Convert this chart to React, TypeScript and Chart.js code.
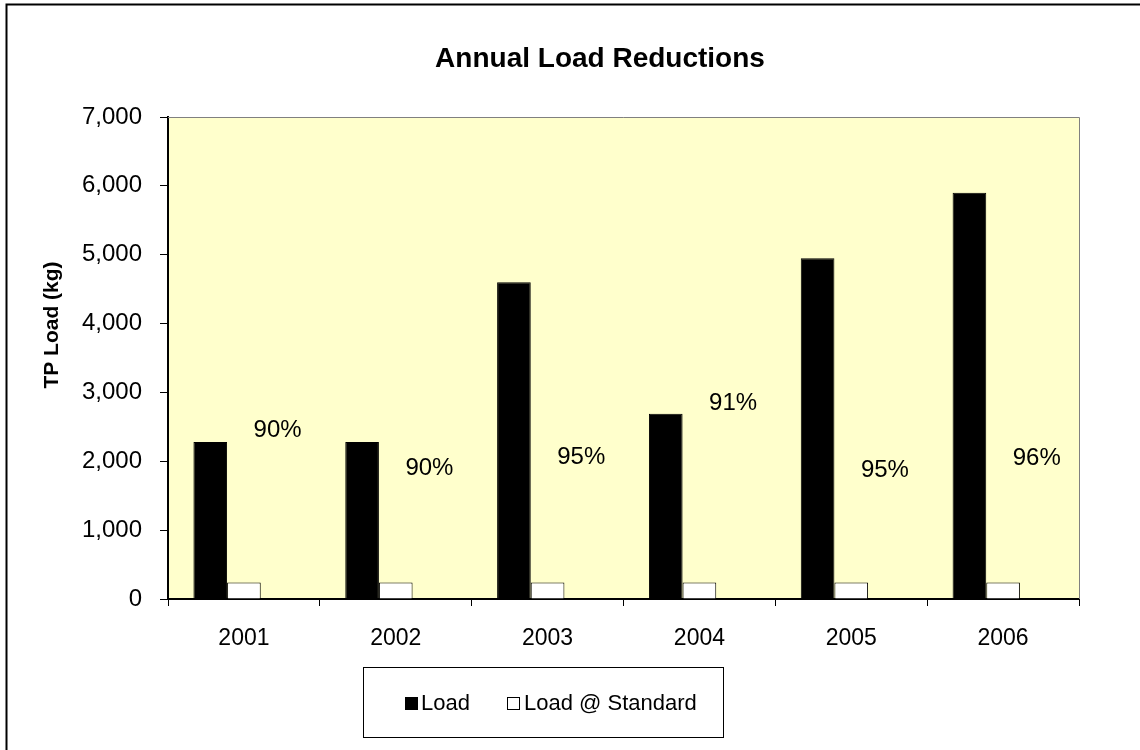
import React, { useEffect, useRef } from "react";
import { Chart, registerables } from "chart.js";

Chart.register(...registerables);

const categories = ["2001", "2002", "2003", "2004", "2005", "2006"];
const loadValues = [2280, 2280, 4600, 2690, 4950, 5900];
const standardValues = [240, 240, 240, 240, 240, 240];
const reductionLabels = ["90%", "90%", "95%", "91%", "95%", "96%"];
const reductionLabelPos = [2454, 1902, 2062, 2846, 1873, 2048];
const reductionSlot = [null, null, null, null, null, null];
const yTicks = [0, 1000, 2000, 3000, 4000, 5000, 6000, 7000];

const FONT = "'Liberation Sans', Arial, sans-serif";

const decorPlugin = {
  id: "decor",
  beforeDraw(chart: any) {
    const { ctx, chartArea } = chart;
    ctx.save();
    ctx.fillStyle = "#ffffff";
    ctx.fillRect(0, 0, chart.width, chart.height);
    ctx.fillStyle = "#FFFFCC";
    ctx.fillRect(chartArea.left, chartArea.top, chartArea.right - chartArea.left, chartArea.bottom - chartArea.top);
    ctx.restore();
  },
  afterDraw(chart: any) {
    const { ctx, chartArea } = chart;
    ctx.save();
    // outer border (right/bottom cropped)
    ctx.strokeStyle = "#000";
    ctx.lineWidth = 2;
    ctx.strokeRect(6.5, 4.5, 1300, 900);
    // plot top & right border
    ctx.strokeStyle = "#808080";
    ctx.lineWidth = 1;
    ctx.beginPath();
    ctx.moveTo(chartArea.left, chartArea.top + 0.5);
    ctx.lineTo(chartArea.right + 0.5, chartArea.top + 0.5);
    ctx.lineTo(chartArea.right + 0.5, chartArea.bottom);
    ctx.stroke();
    // title
    ctx.fillStyle = "#000";
    ctx.font = `bold 28px ${FONT}`;
    ctx.textAlign = "center";
    ctx.textBaseline = "alphabetic";
    ctx.fillText("Annual Load Reductions", 600, 67);
    // y axis title
    ctx.save();
    ctx.translate(52, 325);
    ctx.rotate(-Math.PI / 2);
    ctx.font = `bold 21px ${FONT}`;
    ctx.textBaseline = "middle";
    ctx.fillText("TP Load (kg)", 0, 0);
    ctx.restore();
    // percent labels
    const meta = chart.getDatasetMeta(1);
    const yScale = chart.scales.y;
    ctx.font = `24px ${FONT}`;
    ctx.textAlign = "center";
    ctx.textBaseline = "middle";
    meta.data.forEach((bar: any, i: number) => {
      const x = bar.x + bar.width;
      const y = yScale.getPixelForValue(reductionLabelPos[i]);
      ctx.fillText(reductionLabels[i], x, y);
    });
    // legend
    ctx.strokeStyle = "#000";
    ctx.lineWidth = 1;
    ctx.strokeRect(363.5, 667.5, 360, 70);
    ctx.fillStyle = "#000";
    ctx.fillRect(405, 697, 13, 13);
    ctx.fillStyle = "#fff";
    ctx.fillRect(507, 697, 13, 13);
    ctx.strokeRect(507.5, 697.5, 12, 12);
    ctx.fillStyle = "#000";
    ctx.font = `22px ${FONT}`;
    ctx.textAlign = "left";
    ctx.textBaseline = "middle";
    ctx.fillText("Load", 421, 704);
    ctx.fillText("Load @ Standard", 524, 704);
    ctx.restore();
  },
};

export default function App() {
  const ref = useRef<HTMLCanvasElement>(null);
  useEffect(() => {
    document.body.style.margin = "0";
    const chart = new Chart(ref.current!, {
      type: "bar",
      data: {
        labels: categories,
        datasets: [
          {
            label: "Load",
            data: loadValues,
            backgroundColor: "#000000",
            borderColor: "#000000",
            borderWidth: 1,
          },
          {
            label: "Load @ Standard",
            data: standardValues,
            backgroundColor: "#ffffff",
            borderColor: "#000000",
            borderWidth: 1,
          },
          {
            label: "Reduction",
            data: reductionSlot,
            backgroundColor: "rgba(0,0,0,0)",
            borderWidth: 0,
          },
        ],
      },
      options: {
        responsive: false,
        animation: false,
        layout: { padding: { left: 0, top: 117, right: 61, bottom: 0 } },
        datasets: {
          bar: { categoryPercentage: 0.665, barPercentage: 1.0 },
        },
        plugins: {
          legend: { display: false },
          title: { display: false },
          tooltip: { enabled: false },
        },
        scales: {
          x: {
            offset: true,
            afterFit: (s: any) => {
              s.height = 151;
            },
            grid: {
              offset: true,
              drawOnChartArea: false,
              drawTicks: true,
              tickLength: 7,
              color: "#000",
              lineWidth: 1,
            },
            border: { color: "#000", width: 2 },
            ticks: {
              color: "#000",
              font: { family: FONT, size: 23 },
              padding: 19,
              maxRotation: 0,
            },
          },
          y: {
            min: 0,
            max: 7000,
            afterFit: (s: any) => {
              s.width = 168;
            },
            afterBuildTicks: (s: any) => {
              s.ticks = yTicks.map((v) => ({ value: v }));
            },
            grid: {
              drawOnChartArea: false,
              drawTicks: true,
              tickLength: 8,
              color: "#000",
              lineWidth: 1,
            },
            border: { color: "#000", width: 2 },
            ticks: {
              color: "#000",
              font: { family: FONT, size: 24 },
              padding: 18,
              callback: (v: any) => Number(v).toLocaleString("en-US"),
            },
          },
        },
      },
      plugins: [decorPlugin],
    });
    return () => chart.destroy();
  }, []);
  return <canvas ref={ref} width={1140} height={750} style={{ display: "block" }} />;
}
